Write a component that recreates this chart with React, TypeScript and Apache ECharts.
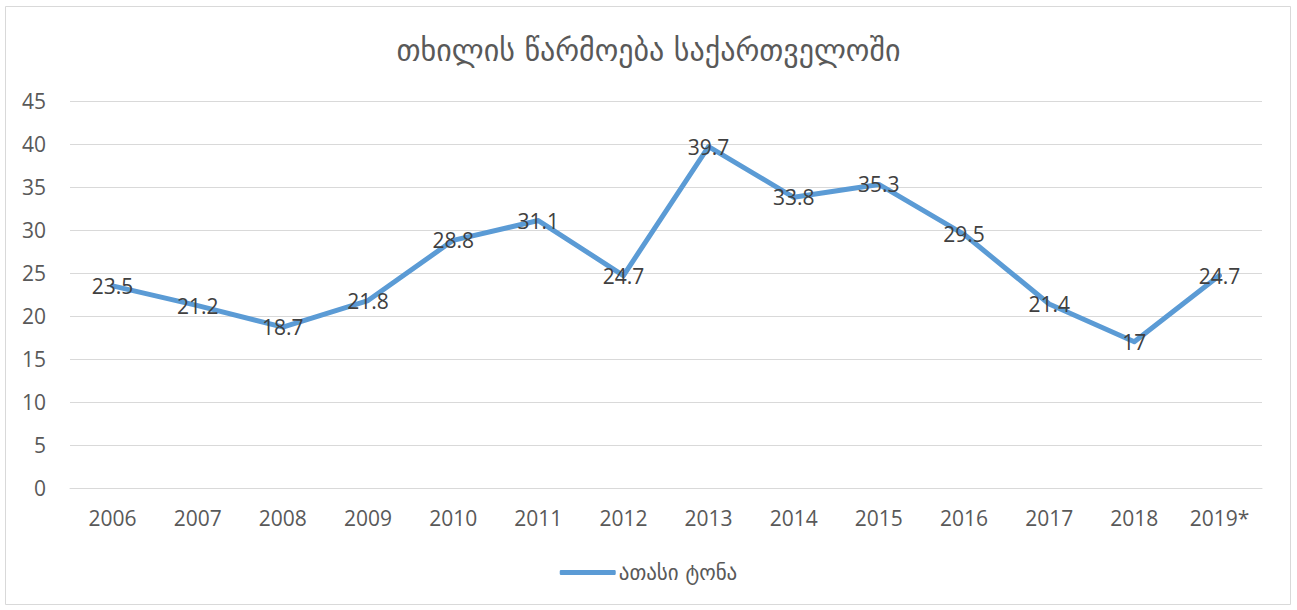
import React, { useEffect, useRef } from "react";
import * as echarts from "echarts";

const title = "თხილის წარმოება საქართველოში";
const seriesName = "ათასი ტონა";
const years = ["2006", "2007", "2008", "2009", "2010", "2011", "2012", "2013", "2014", "2015", "2016", "2017", "2018", "2019*"];
const values = [23.5, 21.2, 18.7, 21.8, 28.8, 31.1, 24.7, 39.7, 33.8, 35.3, 29.5, 21.4, 17, 24.7];

export default function App() {
  const ref = useRef<HTMLDivElement>(null);
  useEffect(() => {
    const chart = echarts.init(ref.current!, null, { renderer: "svg" });
    const font = "'Open Sans', 'DejaVu Sans', sans-serif";
    chart.setOption({
      animation: false,
      backgroundColor: "#ffffff",
      textStyle: { fontFamily: font },
      graphic: [
        {
          type: "rect",
          shape: { x: 5.5, y: 6.5, width: 1285, height: 598 },
          style: { fill: "none", stroke: "#d9d9d9", lineWidth: 1 },
          silent: true,
        },
      ],
      title: {
        text: title,
        left: "center",
        top: 30,
        textStyle: { fontFamily: "'DejaVu Sans', sans-serif", fontSize: 30, fontWeight: "normal", color: "#595959" },
      },
      grid: { left: 70, right: 35, top: 101, bottom: 122, containLabel: false },
      legend: {
        bottom: 22,
        left: "center",
        itemWidth: 56,
        itemHeight: 5,
        itemGap: 10,
        icon: "roundRect",
        textStyle: { fontFamily: "'DejaVu Sans', sans-serif", fontSize: 21, color: "#595959", padding: [0, 0, 0, -2] },
        data: [seriesName],
      },
      xAxis: {
        type: "category",
        data: years,
        boundaryGap: true,
        axisLine: { show: true, lineStyle: { color: "#d9d9d9", width: 1 } },
        axisTick: { show: false },
        axisLabel: { color: "#595959", fontSize: 21, margin: 19 },
      },
      yAxis: {
        type: "value",
        min: 0,
        max: 45,
        interval: 5,
        axisLine: { show: false },
        axisTick: { show: false },
        axisLabel: { color: "#595959", fontSize: 21, margin: 24 },
        splitLine: { lineStyle: { color: "#d9d9d9", width: 1 } },
      },
      series: [
        {
          name: seriesName,
          type: "line",
          data: values,
          showSymbol: true,
          symbol: "circle",
          symbolSize: 1,
          lineStyle: { color: "#5b9bd5", width: 5, cap: "round", join: "round" },
          itemStyle: { color: "#5b9bd5" },
          label: {
            show: true,
            position: "inside",
            color: "#404040",
            fontSize: 21,
            fontFamily: font,
          },
        },
      ],
    });
    return () => chart.dispose();
  }, []);
  return <div ref={ref} style={{ position: "fixed", left: 0, top: 0, width: 1297, height: 610 }} />;
}
